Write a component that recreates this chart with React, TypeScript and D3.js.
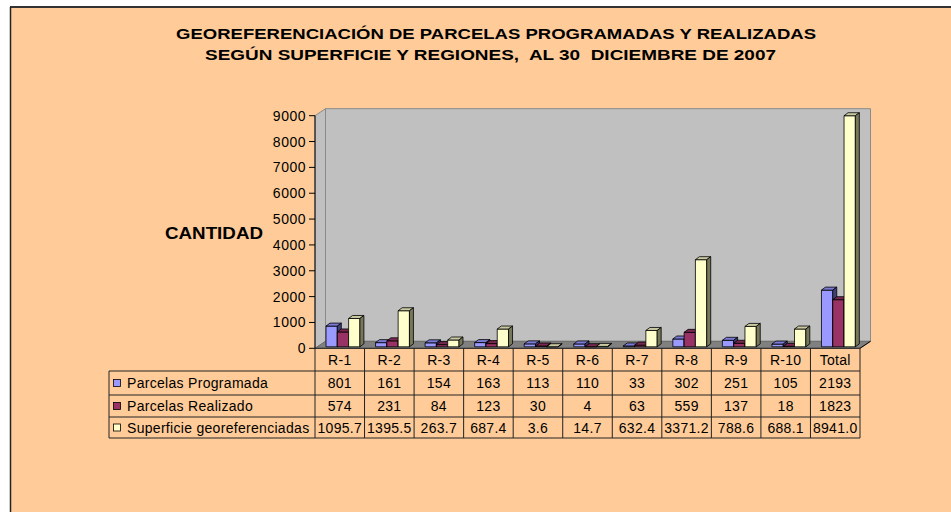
import React from 'react';
import * as d3 from 'd3';

const categories = ['R-1', 'R-2', 'R-3', 'R-4', 'R-5', 'R-6', 'R-7', 'R-8', 'R-9', 'R-10', 'Total'];
const programada = [801, 161, 154, 163, 113, 110, 33, 302, 251, 105, 2193];
const realizado = [574, 231, 84, 123, 30, 4, 63, 559, 137, 18, 1823];
const superficie = [1095.7, 1395.5, 263.7, 687.4, 3.6, 14.7, 632.4, 3371.2, 788.6, 688.1, 8941.0];
const seriesNames = ['Parcelas Programada', 'Parcelas Realizado', 'Superficie georeferenciadas'];
const yTicks = [0, 1000, 2000, 3000, 4000, 5000, 6000, 7000, 8000, 9000];
const titleLines = [
  'GEOREFERENCIACIÓN DE PARCELAS PROGRAMADAS Y REALIZADAS',
  'SEGÚN SUPERFICIE Y REGIONES,  AL 30  DICIEMBRE DE 2007',
];

const seriesData = [programada, realizado, superficie];
const seriesFmt = [(v: number) => String(v), (v: number) => String(v), (v: number) => v.toFixed(1)];
const colors = [
  { front: '#9999FF', top: '#7B7BD6', side: '#3F3F7A' },
  { front: '#993366', top: '#7A2851', side: '#4A1830' },
  { front: '#FFFFCC', top: '#C9C9A2', side: '#77775A' },
];

const FONT = '"Liberation Sans", Arial, sans-serif';

export default function App() {
  const W = 951, H = 512;
  const x0 = 315, x1 = 860;
  const yBase = 348.3;
  const dX = 10.5, dY = -7; // wall depth
  const bdx = 4, bdy = -3; // bar depth
  const boX = 0, boY = -1.5; // bar front offset

  const y = d3.scaleLinear().domain([0, 9000]).range([yBase, 115.7]);
  const xBand = d3.scaleBand<string>().domain(categories).range([x0, x1]).paddingInner(0).paddingOuter(0);
  const xSub = d3.scaleBand<string>().domain(seriesNames).range([11, 11 + 3 * 11.3]).padding(0);

  const rows = [348.3, 371, 395, 417, 438];
  const tableLeft = 109;
  const tfs = 14;
  const tls = 0.3;

  const titleWidths = [640, 571];
  const titleCenters = [496, 490.5];

  const bars: React.ReactNode[] = [];
  categories.forEach((c, ci) => {
    seriesNames.forEach((s, si) => {
      const v = seriesData[si][ci];
      const bx = (xBand(c) as number) + (xSub(s) as number) + boX;
      const w = xSub.bandwidth();
      const yb = yBase + boY;
      const yt = y(v) + boY;
      const col = colors[si];
      bars.push(
        <g key={c + s} stroke="#000" strokeWidth={0.8} strokeLinejoin="round">
          <rect x={bx} y={yt} width={w} height={Math.max(0, yb - yt)} fill={col.front} />
          <polygon
            points={`${bx},${yt} ${bx + bdx},${yt + bdy} ${bx + w + bdx},${yt + bdy} ${bx + w},${yt}`}
            fill={col.top}
          />
          <polygon
            points={`${bx + w},${yt} ${bx + w + bdx},${yt + bdy} ${bx + w + bdx},${yb + bdy} ${bx + w},${yb}`}
            fill={col.side}
          />
        </g>
      );
    });
  });

  return (
    <svg
      width={W}
      height={H}
      style={{ position: 'absolute', left: 0, top: 0, fontFamily: FONT }}
    >
      <rect x={0} y={0} width={W} height={H} fill="#FFFFFF" />
      <rect x={10} y={7} width={W} height={H} fill="#FFCC99" />
      <line x1={10} y1={7} x2={W} y2={7} stroke="#333" strokeWidth={2} />
      <line x1={10.5} y1={7} x2={10.5} y2={H} stroke="#222" strokeWidth={1.5} />

      {titleLines.map((t, i) => (
        <text
          key={i}
          x={titleCenters[i]}
          y={39 + i * 21}
          textAnchor="middle"
          fontWeight="bold"
          fontSize={15.5}
          fill="#000"
          textLength={titleWidths[i]}
          lengthAdjust="spacingAndGlyphs"
          style={{ whiteSpace: 'pre' }}
        >
          {t}
        </text>
      ))}

      {/* walls */}
      <polygon
        points={`${x0 + dX},${y(9000) + dY} ${x1 + dX},${y(9000) + dY} ${x1 + dX},${yBase + dY} ${x0 + dX},${yBase + dY}`}
        fill="#C0C0C0"
        stroke="#8A8A8A"
        strokeWidth={1}
      />
      <polygon
        points={`${x0},${yBase} ${x0},${y(9000)} ${x0 + dX},${y(9000) + dY} ${x0 + dX},${yBase + dY}`}
        fill="#C0C0C0"
        stroke="#8A8A8A"
        strokeWidth={1}
      />
      <polygon
        points={`${x0},${yBase} ${x0 + dX},${yBase + dY} ${x1 + dX},${yBase + dY} ${x1},${yBase}`}
        fill="#808080"
        stroke="#666"
        strokeWidth={0.8}
      />

      {bars}

      {/* axes */}
      <line x1={x0} y1={y(9000)} x2={x0} y2={yBase} stroke="#000" strokeWidth={1} />
      <line x1={x1} y1={yBase} x2={x1 + dX} y2={yBase + dY} stroke="#000" strokeWidth={1} />
      {yTicks.map((t) => (
        <g key={t}>
          <line x1={x0 - 6} y1={y(t)} x2={x0} y2={y(t)} stroke="#000" strokeWidth={1} />
          <text x={x0 - 9} y={y(t)} dy="0.36em" textAnchor="end" fontSize={14} letterSpacing={0.5} fill="#000">
            {t}
          </text>
        </g>
      ))}
      <text x={214} y={233} dy="0.36em" textAnchor="middle" fontWeight="bold" fontSize={16.5} textLength={98} lengthAdjust="spacingAndGlyphs">
        CANTIDAD
      </text>

      {/* data table */}
      <g stroke="#222" strokeWidth={1} fill="none">
        <line x1={x0} y1={rows[0]} x2={x1} y2={rows[0]} />
        {rows.slice(1).map((r, i) => (
          <line key={i} x1={tableLeft} y1={r} x2={x1} y2={r} />
        ))}
        <line x1={tableLeft} y1={rows[1]} x2={tableLeft} y2={rows[4]} />
        {categories.map((c) => (
          <line key={c} x1={xBand(c) as number} y1={rows[0]} x2={xBand(c) as number} y2={rows[4]} />
        ))}
        <line x1={x1} y1={rows[0]} x2={x1} y2={rows[4]} />
      </g>
      {categories.map((c) => (
        <text
          key={c}
          x={(xBand(c) as number) + xBand.bandwidth() / 2}
          y={(rows[0] + rows[1]) / 2}
          dy="0.36em"
          textAnchor="middle"
          fontSize={tfs}
          letterSpacing={tls}
        >
          {c}
        </text>
      ))}
      {seriesNames.map((s, si) => {
        const cy = (rows[si + 1] + rows[si + 2]) / 2;
        return (
          <g key={s}>
            <rect x={113.5} y={cy - 3.5} width={7} height={7} fill={colors[si].front} stroke="#000" strokeWidth={0.8} />
            <text x={127} y={cy} dy="0.36em" fontSize={tfs} letterSpacing={tls}>
              {s}
            </text>
            {categories.map((c, ci) => (
              <text
                key={c}
                x={(xBand(c) as number) + xBand.bandwidth() / 2}
                y={cy}
                dy="0.36em"
                textAnchor="middle"
                fontSize={tfs}
                letterSpacing={tls}
              >
                {seriesFmt[si](seriesData[si][ci])}
              </text>
            ))}
          </g>
        );
      })}
    </svg>
  );
}
